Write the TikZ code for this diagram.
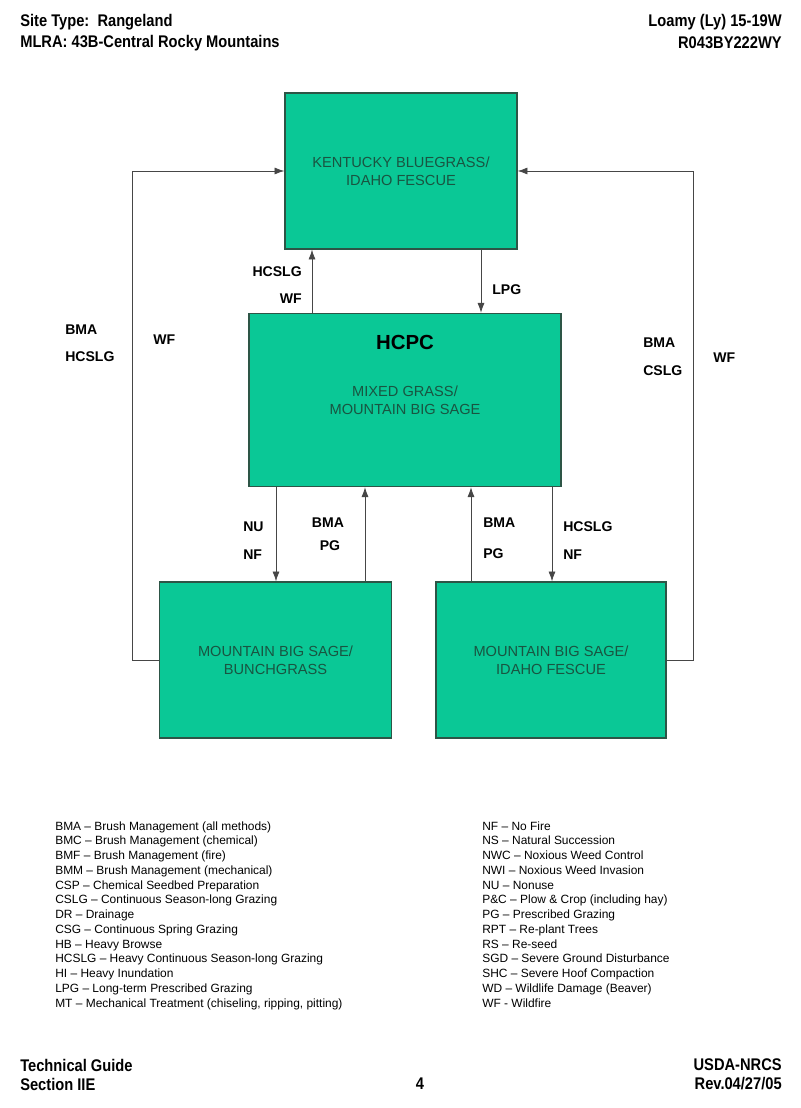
\documentclass[tikz,border=0pt]{standalone}
\usepackage{fontspec}
\setmainfont{Liberation Sans}
\newfontfamily\narrowfont[FakeStretch=0.87]{Liberation Sans}
\usepackage{xcolor}
\usetikzlibrary{arrows.meta, positioning}

\definecolor{boxgreen}{RGB}{10,200,150}
\definecolor{boxedge}{RGB}{45,85,70}
\definecolor{boxtext}{RGB}{25,85,65}
\definecolor{linegray}{RGB}{70,70,70}

\begin{document}
\begin{tikzpicture}[x=0.025cm, y=-0.025cm,
  state/.style={rectangle, draw=boxedge, fill=boxgreen, line width=0.8pt, text=boxtext, align=center, font=\fontsize{10.4}{13}\selectfont},
  arr/.style={-{Latex[length=7pt,width=5pt]}, line width=0.6pt, linegray},
  tag/.style={font=\bfseries\fontsize{10}{12}\selectfont, inner sep=0pt},
  hdr/.style={font=\narrowfont\bfseries\fontsize{12}{14}\selectfont, inner sep=0pt},
  legend/.style={font=\fontsize{8.5}{10}\selectfont, anchor=base west, inner sep=0pt}]
\useasboundingbox (0,0) rectangle (800,1108);

% header and footer
\node (site) [hdr, anchor=west] at (20,22) {Site Type:\ \ Rangeland};
\node (mlra) [hdr, anchor=west] at (20,43) {MLRA: 43B-Central Rocky Mountains};
\node (loamy) [hdr, anchor=east] at (782,22) {Loamy (Ly) 15-19W};
\node (esd) [hdr, anchor=east] at (782,43) {R043BY222WY};
\node (guide) [hdr, anchor=west] at (20,1065) {Technical Guide};
\node (sect) [hdr, anchor=west] at (20,1084) {Section IIE};
\node (page) [hdr] at (420,1084) {4};
\node (usda) [hdr, anchor=east] at (782,1065) {USDA-NRCS};
\node (rev) [hdr, anchor=east] at (782,1084) {Rev.04/27/05};

% states
\node (kbif) [state, minimum width=5.8cm, minimum height=3.9cm] at (401,171) {KENTUCKY BLUEGRASS/\\IDAHO FESCUE};
\node (hcpc) [state, minimum width=7.8cm, minimum height=4.33cm] at (405,400) {MIXED GRASS/\\MOUNTAIN BIG SAGE};
\node (hcpctitle) [font=\bfseries\fontsize{14.5}{16}\selectfont, inner sep=0pt] at (405,342) {HCPC};
\node (mbsbg) [state, minimum width=5.78cm, minimum height=3.9cm] at (275.5,660) {MOUNTAIN BIG SAGE/\\BUNCHGRASS};
\node (mbsif) [state, minimum width=5.75cm, minimum height=3.9cm] at (551,660) {MOUNTAIN BIG SAGE/\\IDAHO FESCUE};

% transitions
\draw[arr] (hcpc.north -| 312,0) -- (kbif.south -| 312,0);
\draw[arr] (kbif.south -| 481,0) -- (hcpc.north -| 481,0);
\draw[arr] (hcpc.south -| 276,0) -- (mbsbg.north -| 276,0);
\draw[arr] (mbsbg.north -| 365,0) -- (hcpc.south -| 365,0);
\draw[arr] (mbsif.north -| 471,0) -- (hcpc.south -| 471,0);
\draw[arr] (hcpc.south -| 552,0) -- (mbsif.north -| 552,0);
\draw[arr] (mbsbg.west) -- ++(-27,0) |- (kbif.west);
\draw[arr] (mbsif.east) -- ++(27,0) |- (kbif.east);

% transition labels
\node (t1) [tag, anchor=east] at (302,272) {HCSLG};
\node (t2) [tag, anchor=east] at (302,299) {WF};
\node (t3) [tag, anchor=west] at (492,290) {LPG};
\node (t4) [tag, anchor=west] at (243,527) {NU};
\node (t5) [tag, anchor=west] at (243,555) {NF};
\node (t6) [tag] at (328,523) {BMA};
\node (t7) [tag] at (330,546) {PG};
\node (t8) [tag, anchor=west] at (483,523) {BMA};
\node (t9) [tag, anchor=west] at (483,554) {PG};
\node (t10) [tag, anchor=west] at (563,527) {HCSLG};
\node (t11) [tag, anchor=west] at (563,555) {NF};
\node (t12) [tag, anchor=west] at (65,330) {BMA};
\node (t13) [tag, anchor=west] at (65,357) {HCSLG};
\node (t14) [tag, anchor=west] at (153,340) {WF};
\node (t15) [tag, anchor=west] at (643,343) {BMA};
\node (t16) [tag, anchor=west] at (643,371) {CSLG};
\node (t17) [tag, anchor=west] at (713,358) {WF};

% legend
\foreach \entry [count=\i] in {BMA -- Brush Management (all methods), BMC -- Brush Management (chemical), BMF -- Brush Management (fire), BMM -- Brush Management (mechanical), CSP -- Chemical Seedbed Preparation, CSLG -- Continuous Season-long Grazing, DR -- Drainage, CSG -- Continuous Spring Grazing, HB -- Heavy Browse, HCSLG -- Heavy Continuous Season-long Grazing, HI -- Heavy Inundation, LPG -- Long-term Prescribed Grazing, {MT -- Mechanical Treatment (chiseling, ripping, pitting)}}
  \node (legl\i) [legend] at (55,{830+14.75*(\i-1)}) {\entry};
\foreach \entry [count=\i] in {NF -- No Fire, NS -- Natural Succession, NWC -- Noxious Weed Control, NWI -- Noxious Weed Invasion, NU -- Nonuse, P\&C -- Plow \& Crop (including hay), PG -- Prescribed Grazing, RPT -- Re-plant Trees, RS -- Re-seed, SGD -- Severe Ground Disturbance, SHC -- Severe Hoof Compaction, WD -- Wildlife Damage (Beaver), WF - Wildfire}
  \node (legr\i) [legend] at (482,{830+14.75*(\i-1)}) {\entry};
\end{tikzpicture}
\end{document}
